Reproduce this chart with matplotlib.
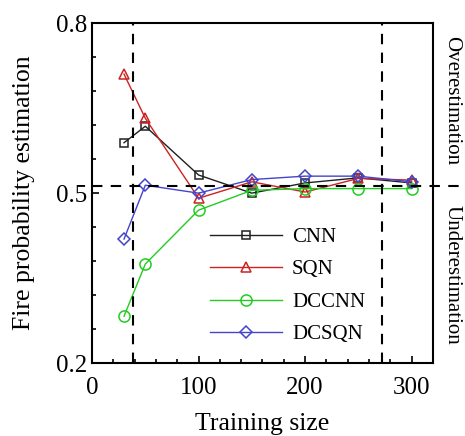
import matplotlib
matplotlib.use("Agg")
import matplotlib.pyplot as plt
from matplotlib.ticker import MultipleLocator, FixedLocator

plt.rcParams['font.family'] = ['Liberation Serif', 'DejaVu Serif']

# Data
sizes = [30, 50, 100, 150, 200, 250, 300]
cnn = [0.589, 0.618, 0.532, 0.500, 0.518, 0.527, 0.518]
sqn = [0.710, 0.632, 0.491, 0.520, 0.502, 0.526, 0.523]
dccnn = [0.283, 0.375, 0.470, 0.505, 0.508, 0.508, 0.508]
dcsqn = [0.419, 0.514, 0.500, 0.524, 0.530, 0.530, 0.520]
series_names = ['CNN', 'SQN', 'DCCNN', 'DCSQN']
y_ticks = [0.2, 0.5, 0.8]
y_minor = [0.26, 0.32, 0.38, 0.44, 0.56, 0.62, 0.68, 0.74]
ref_x = [38, 272]
ref_y = 0.512

fig = plt.figure(figsize=(4.65, 4.36), dpi=100)
ax = fig.add_axes([0.198, 0.167, 0.733, 0.780])

ax.plot(sizes, cnn, color='#202020', lw=1, marker='s', ms=6, mfc='none', mew=1.1, label=series_names[0])
ax.plot(sizes, sqn, color='#cc2222', lw=1, marker='^', ms=7, mfc='none', mew=1.1, label=series_names[1])
ax.plot(sizes, dccnn, color='#22cc22', lw=1, marker='o', ms=8, mfc='none', mew=1.1, label=series_names[2])
ax.plot(sizes, dcsqn, color='#4444cc', lw=1, marker='D', ms=6, mfc='none', mew=1.1, label=series_names[3])

# reference lines
for xv in ref_x:
    ax.axvline(xv, color='black', ls=(0, (5, 4)), lw=1.5)
ax.axhline(ref_y, xmin=0, xmax=1.09, color='black', ls=(0, (5, 4)), lw=1.5, clip_on=False)

ax.set_xlim(0, 320)
ax.set_ylim(0.2, 0.8)
ax.xaxis.set_major_locator(MultipleLocator(100))
ax.xaxis.set_minor_locator(MultipleLocator(20))
ax.yaxis.set_major_locator(FixedLocator(y_ticks))
ax.yaxis.set_minor_locator(FixedLocator(y_minor))
ax.tick_params(direction='in', which='both', labelsize=18, width=1.2)
ax.tick_params(which='major', length=5)
ax.tick_params(which='minor', length=3)
ax.tick_params(axis='x', which='major', pad=10)
for sp in ax.spines.values():
    sp.set_linewidth(1.5)

ax.set_xlabel('Training size', fontsize=18.5, labelpad=10)
ax.set_ylabel('Fire probability estimation', fontsize=18.5, labelpad=15)

ax.legend(loc='lower left', bbox_to_anchor=(0.29, 0.0), frameon=False, fontsize=15,
          handlelength=3.45, handletextpad=0.5, labelspacing=0.62)

fig.text(0.972, 0.77, 'Overestimation', rotation=-90, ha='center', va='center', fontsize=15)
fig.text(0.972, 0.37, 'Underestimation', rotation=-90, ha='center', va='center', fontsize=15)

fig.savefig('out.png', dpi=100)
